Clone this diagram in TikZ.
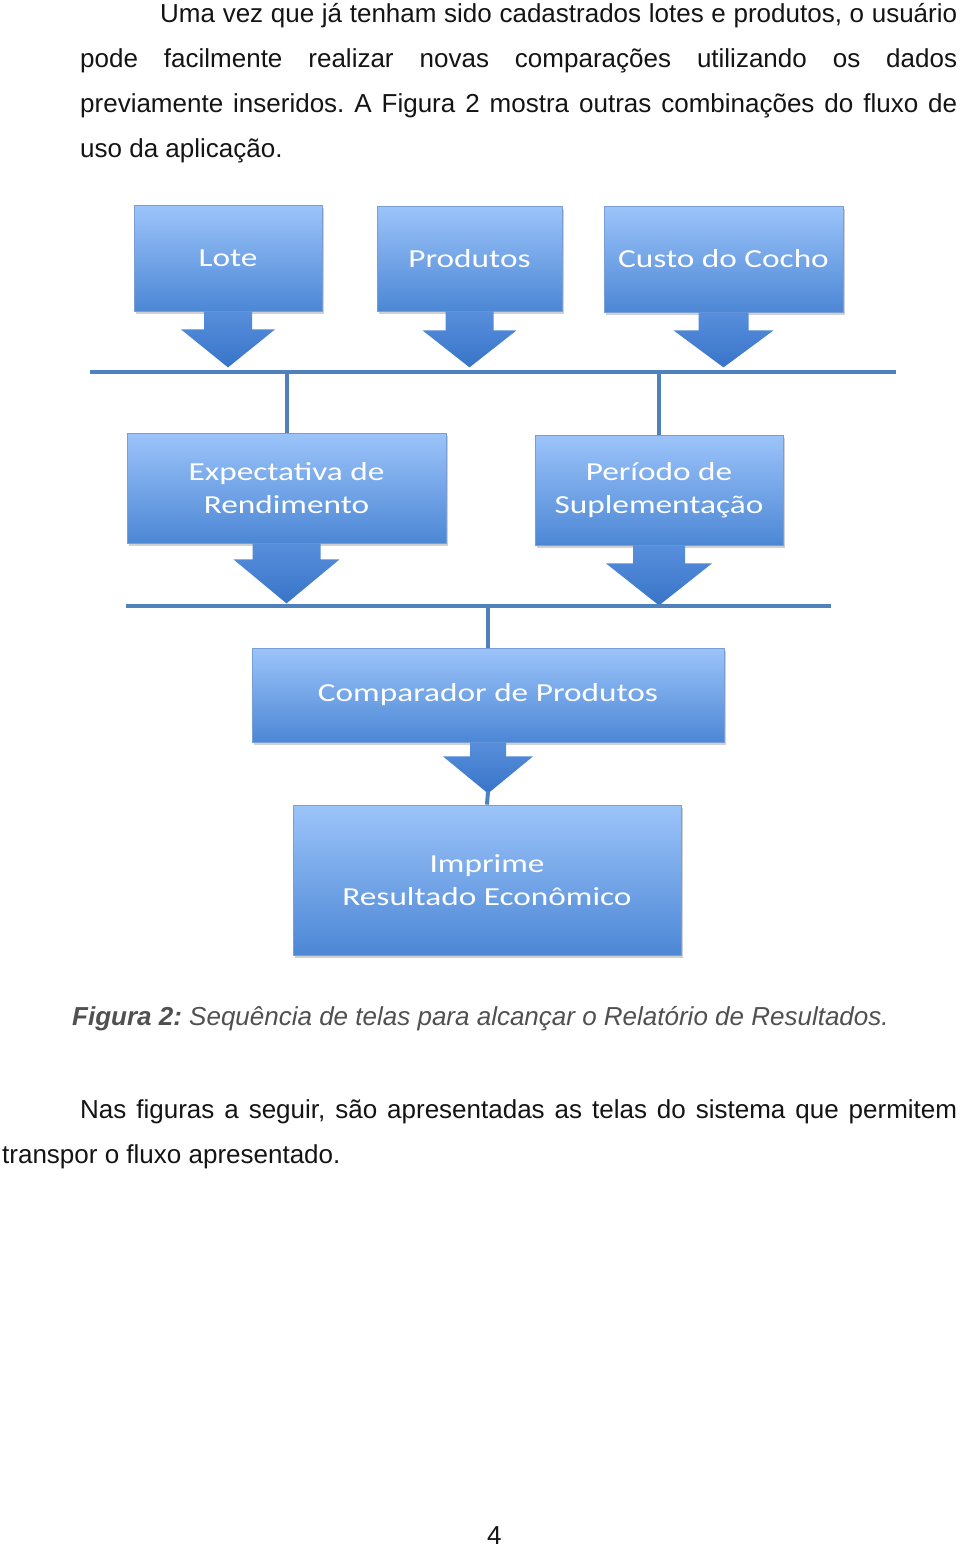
\documentclass[tikz,border=0pt]{standalone}
\usepackage{fontspec}
\setmainfont{Liberation Sans}
\newfontfamily\boxfont{Carlito}
\usetikzlibrary{shadows,calc}
\frenchspacing
\definecolor{boxtop}{RGB}{156,196,250}
\definecolor{boxbot}{RGB}{76,135,213}
\definecolor{arrtop}{RGB}{88,143,220}
\definecolor{arrbot}{RGB}{56,116,200}
\definecolor{boxedge}{RGB}{120,158,212}
\definecolor{connblue}{RGB}{79,129,189}
\definecolor{captiongray}{RGB}{80,80,80}
\definecolor{bodytext}{RGB}{20,20,20}
\tikzset{
  flowbox/.style={rectangle, inner sep=0pt, top color=boxtop, bottom color=boxbot,
    draw=boxedge, line width=0.8pt, text=white, align=center,
    font=\boxfont\fontsize{26}{33}\selectfont,
    drop shadow={shadow xshift=2pt, shadow yshift=-2.5pt, opacity=0.3, fill=black!60}},
  blockarrow/.style={top color=arrtop, bottom color=arrbot, draw=none},
  conn/.style={draw=connblue, line width=4pt},
  bodyline/.style={inner sep=0pt, anchor=base west, text=bodytext, font=\fontsize{26}{45}\selectfont},
}
% #1 node, #2 stem half width, #3 stem length, #4 head half width, #5 head length
\newcommand\flowarrow[5]{%
  \shade[blockarrow] ([xshift=-#2pt]#1.south) -- ++(0,#3) -- ++({-(#4-#2)},0)
    -- ++(#4,#5) -- ++(#4,-#5) -- ++({-(#4-#2)},0) -- ++(0,-#3) -- cycle;}
\newcommand\bx[1]{\scalebox{1.28}[1]{#1}}
\begin{document}
\begin{tikzpicture}[x=1pt,y=-1pt]
\useasboundingbox (0,0) rectangle (960,1549);
\fill[white] (0,0) rectangle (960,1549);

% body text
\node[bodyline] (t1) at (160,23) {\makebox[797pt][s]{Uma vez que já tenham sido cadastrados lotes e produtos, o usuário}};
\node[bodyline] (t2) at (80,68) {\makebox[877pt][s]{pode facilmente realizar novas comparações utilizando os dados}};
\node[bodyline] (t3) at (80,113) {\makebox[877pt][s]{previamente inseridos. A Figura 2 mostra outras combinações do fluxo de}};
\node[bodyline] (t4) at (80,158) {uso da aplicação.};

% bars
\coordinate (tbL) at (90,372);
\coordinate (tbR) at (896,372);
\coordinate (bbL) at (126,606);
\coordinate (bbR) at (831,606);

% top boxes
\node[flowbox, minimum width=188pt, minimum height=106pt] (lote) at (228,258) {\bx{Lote}};
\node[flowbox, minimum width=185pt, minimum height=105pt] (prod) at (469.5,258.5) {\bx{Produtos}};
\node[flowbox, minimum width=239pt, minimum height=106pt] (custo) at (723.5,259) {\bx{Custo do Cocho}};

\flowarrow{lote}{24}{18}{47}{38}
\flowarrow{prod}{24}{19}{47}{37}
\flowarrow{custo}{25}{18}{50}{37}

\draw[conn] (tbL) -- (tbR);

% middle boxes
\node[flowbox, minimum width=319pt, minimum height=110pt] (expe) at (286.5,488) {\bx{Expectativa de}\\\bx{Rendimento}};
\node[flowbox, minimum width=248pt, minimum height=110pt] (peri) at (659,490) {\bx{Período de}\\\bx{Suplementação}};

\draw[conn] (expe.north |- tbL) -- (expe.north);
\draw[conn] (peri.north |- tbL) -- (peri.north);

\flowarrow{expe}{34}{16}{53}{44}
\flowarrow{peri}{26}{18}{53}{42}

\draw[conn] (bbL) -- (bbR);

% comparator
\node[flowbox, minimum width=472pt, minimum height=94pt] (comp) at (488,695) {\bx{Comparador de Produtos}};
\draw[conn] (comp.north |- bbL) -- (comp.north);
\flowarrow{comp}{18}{14}{45}{37}

\node[flowbox, minimum width=388pt, minimum height=150pt] (impr) at (487,880) {\bx{Imprime}\\\bx{Resultado Econômico}};
\draw[connblue, line width=4pt] ($(comp.south)+(0,49)$) -- (impr.north);

% caption
\node[bodyline, text=captiongray] (cap) at (72,1025) {\textbf{\textit{Figura 2:}} \textit{Sequência de telas para alcançar o Relatório de Resultados.}};

% closing text
\node[bodyline] (t5) at (80,1118) {\makebox[877pt][s]{Nas figuras a seguir, são apresentadas as telas do sistema que permitem}};
\node[bodyline] (t6) at (2,1163) {transpor o fluxo apresentado.};

\node[bodyline] (pg) at (487,1544) {4};
\end{tikzpicture}
\end{document}
